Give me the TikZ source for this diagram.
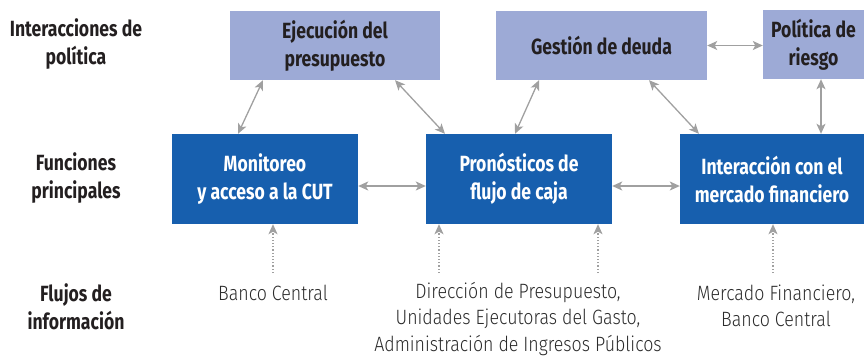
\documentclass[tikz,border=0pt]{standalone}
\usepackage{fontspec}
\setmainfont{Fira Sans}[FakeStretch=0.8]
\newfontfamily\lightf{Fira Sans Light}[FakeStretch=0.86]
\usetikzlibrary{arrows.meta}
\definecolor{lightbox}{HTML}{9DAAD6}
\definecolor{darkbox}{HTML}{175FAE}
\definecolor{arr}{HTML}{A0A0A0}
\definecolor{txt}{HTML}{231F20}
\definecolor{ltxt}{HTML}{2B2B2B}
\begin{document}
\begin{tikzpicture}[x=1pt,y=-1pt,
  pol/.style={fill=lightbox,inner sep=0pt,align=center,text=txt,font=\fontsize{22}{28}\selectfont\bfseries},
  fun/.style={fill=darkbox,inner sep=0pt,align=center,text=white,font=\fontsize{22}{28}\selectfont\bfseries,minimum width=186pt,minimum height=90pt},
  rowlab/.style={align=center,text=txt,font=\fontsize{22}{28}\selectfont\bfseries},
  info/.style={align=center,text=ltxt,font=\fontsize{20.7}{26.5}\selectfont\lightf},
  link/.style={draw=arr,line width=1.3pt,{Stealth[length=10pt,width=9pt,inset=2.5pt]}-{Stealth[length=10pt,width=9pt,inset=2.5pt]}},
  feed/.style={draw=arr,line width=1.2pt,dotted,-{Stealth[length=10pt,width=9pt,inset=2.5pt]}}
  ]
\useasboundingbox (0,0) rectangle (864,356);
% row labels
\node[rowlab] (l1) at (76,44) {Interacciones de\\política};
\node[rowlab] (l2) at (76,178) {Funciones\\principales};
\node[rowlab] (l3) at (76,307) {Flujos de\\información};
% policy boxes
\node[pol,minimum width=210pt,minimum height=69pt] (eje) at (335,45.5) {Ejecución del\\presupuesto};
\node[pol,minimum width=211pt,minimum height=69pt] (ges) at (601.5,45.5) {Gestión de deuda};
\node[pol,minimum width=101pt,minimum height=69pt] (pol) at (813.5,44.5) {Política de\\riesgo};
% function boxes
\node[fun] (mon) at (265,179) {Monitoreo\\y acceso a la CUT};
\node[fun] (pro) at (519,179) {Pronósticos de\\flujo de caja};
\node[fun,minimum width=184pt] (int) at (772,179) {Interacción con el\\mercado financiero};
% info texts
\node[info] (i1) at (273,293) {Banco Central};
\node[info] (i2) at (518,319) {Dirección de Presupuesto,\\Unidades Ejecutoras del Gasto,\\Administración de Ingresos Públicos};
\node[info] (i3) at (776,306) {Mercado Financiero,\\Banco Central};
% coordinates for feeds
\coordinate (f1) at (273,273);
\coordinate (f2) at (439,273);
\coordinate (f3) at (598,273);
\coordinate (f4) at (773,273);
% links
\draw[link] (mon.north -| 238,0) -- (eje.south -| 263,0);
\draw[link] (eje.south -| 395,0) -- (pro.north -| 445,0);
\draw[link] (pro.north -| 515,0) -- (ges.south -| 539,0);
\draw[link] (ges.south -| 649,0) -- (int.north -| 699,0);
\draw[link] (ges.east) -- (pol.west |- ges.east);
\draw[link] (pol.south -| 821,0) -- (int.north -| 821,0);
\draw[link] (mon.east |- 0,186) -- (pro.west |- 0,186);
\draw[link] (pro.east |- 0,186) -- (int.west |- 0,186);
% feeds
\draw[feed] (f1) -- (mon.south -| f1);
\draw[feed] (f2) -- (pro.south -| f2);
\draw[feed] (f3) -- (pro.south -| f3);
\draw[feed] (f4) -- (int.south -| f4);
\end{tikzpicture}
\end{document}
